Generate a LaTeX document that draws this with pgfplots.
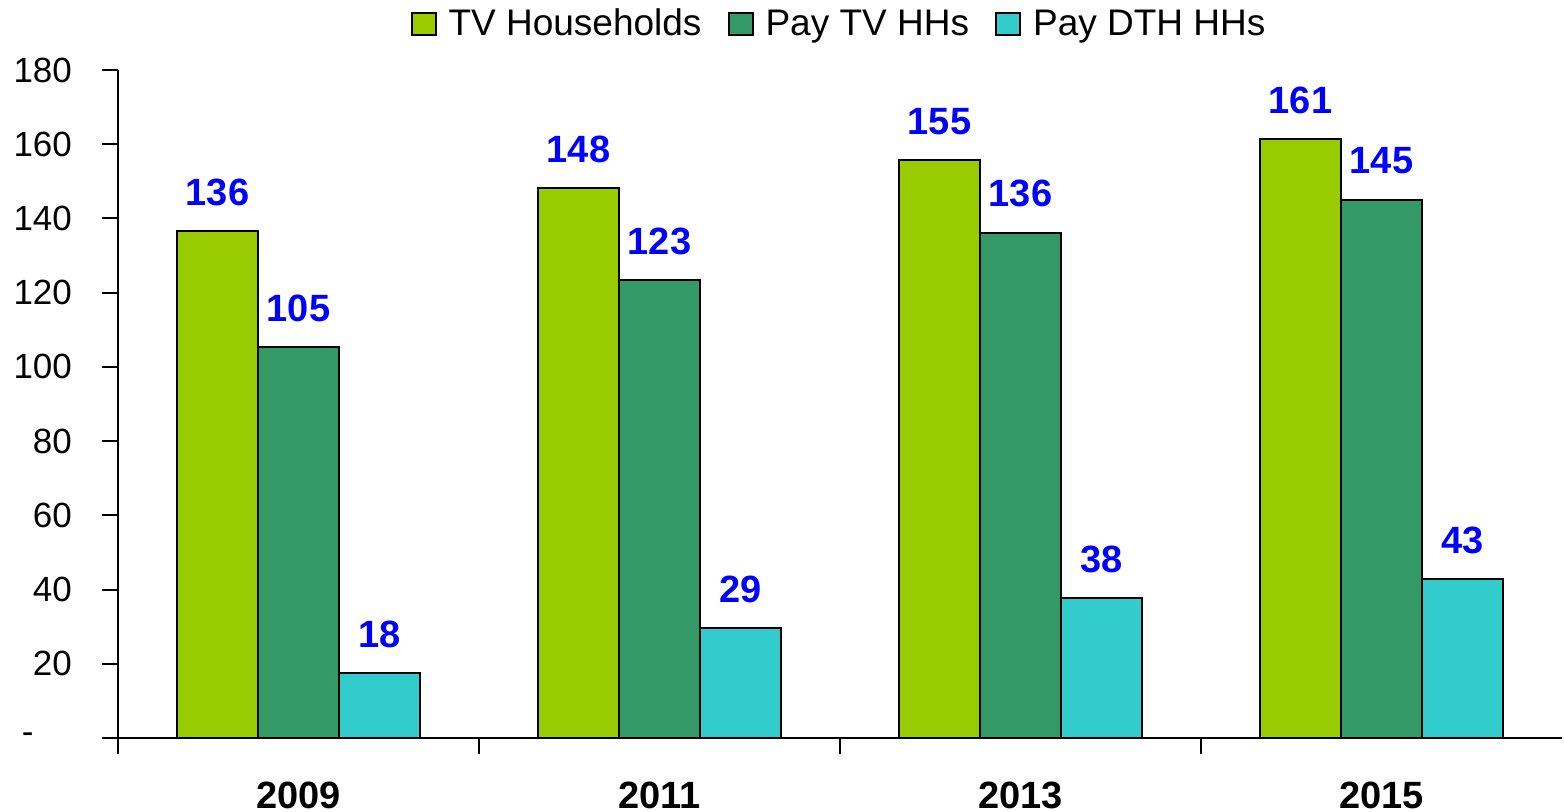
\documentclass[border=0pt]{standalone}
\usepackage{fontspec}
\setmainfont{Liberation Sans}
\usepackage{pgfplots}
\pgfplotsset{compat=1.18}
\usetikzlibrary{calc}
\definecolor{cTV}{HTML}{99CC00}
\definecolor{cPay}{HTML}{339966}
\definecolor{cDTH}{HTML}{33CCCC}
\definecolor{cLab}{HTML}{0000FF}
\begin{document}
\begin{tikzpicture}
\begin{axis}[
  scale only axis, width=722pt, height=334pt,
  xmin=-0.5, xmax=3.5, ymin=0, ymax=180,
  axis x line*=bottom, axis y line*=left,
  axis line style={line width=1pt},
  ybar=0pt, bar width=40.5pt,
  tick align=outside, major tick length=8pt,
  tick style={black, line width=1pt},
  xtick={-0.5,0.5,1.5,2.5}, xticklabels={},
  extra x ticks={0,1,2,3},
  extra x tick labels={2009,2011,2013,2015},
  extra x tick style={major tick length=0pt, tick style={draw=none},
    tick label style={font=\bfseries\fontsize{19}{22}\selectfont, anchor=base, yshift=-35.5pt}},
  ytick={0,20,...,180},
  yticklabels={{\makebox[25pt][l]{-}},20,40,60,80,100,120,140,160,180},
  yticklabel style={font=\fontsize{17.5}{21}\selectfont, xshift=-11.5pt},
  /pgf/number format/assume math mode=true,
  point meta=explicit symbolic,
  nodes near coords,
  every node near coord/.append style={font=\bfseries\fontsize{19}{22}\selectfont, text=cLab, anchor=base, yshift=13pt},
  legend style={at={(0.5,1)}, anchor=center, yshift=23pt, draw=none,
    font=\fontsize{18.5}{22}\selectfont, legend columns=3,
    /tikz/every odd column/.append style={column sep=4pt},
    /tikz/every even column/.append style={column sep=11pt}},
  legend image code/.code={\draw[#1,line width=1pt] (0pt,-5.5pt) rectangle (12pt,5.5pt);},
]
\coordinate (O) at (rel axis cs:0,0);
\addplot[fill=cTV, draw=black, line width=1pt] coordinates {(0,136.6) [136] (1,148.2) [148] (2,155.7) [155] (3,161.4) [161]};
\addplot[fill=cPay, draw=black, line width=1pt] coordinates {(0,105.3) [105] (1,123.4) [123] (2,136.1) [136] (3,145.0) [145]};
\addplot[fill=cDTH, draw=black, line width=1pt] coordinates {(0,17.5) [18] (1,29.6) [29] (2,37.7) [38] (3,42.8) [43]};
\legend{TV Households, Pay TV HHs, Pay DTH HHs}
\end{axis}
\pgfresetboundingbox
\useasboundingbox ($(O)+(-59pt,-37pt)$) rectangle ($(O)+(723pt,369pt)$);
\end{tikzpicture}
\end{document}
